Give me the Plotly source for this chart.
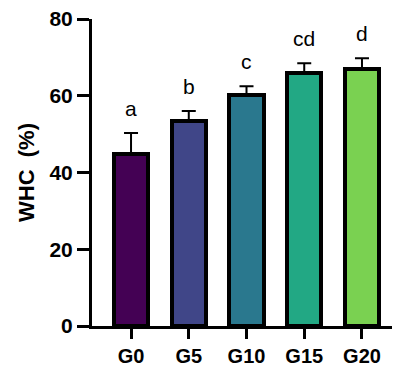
import plotly.graph_objects as go

groups = ["G0", "G5", "G10", "G15", "G20"]
whc_mean = [44.8, 53.4, 60.2, 65.9, 67.0]
whc_sd = [5.5, 2.6, 2.3, 2.6, 2.8]
letters = ["a", "b", "c", "cd", "d"]
bar_colors = ["#440154", "#404688", "#2a788e", "#22a884", "#7ad151"]
y_ticks = [0, 20, 40, 60, 80]

FONT = "Liberation Sans, Arial, sans-serif"

fig = go.Figure()
fig.add_trace(go.Bar(
    x=groups,
    y=whc_mean,
    width=0.59,
    marker=dict(color=bar_colors, line=dict(color="black", width=4)),
    error_y=dict(type="data", array=whc_sd, arrayminus=[0] * len(whc_sd),
                 symmetric=False, color="black", thickness=2, width=7),
    showlegend=False,
))

for g, m, s, t in zip(groups, whc_mean, whc_sd, letters):
    fig.add_annotation(x=g, y=m + s, text=t, showarrow=False, yanchor="bottom",
                       yshift=11, font=dict(family=FONT, size=21, color="black"))

fig.update_layout(
    width=394, height=367,
    margin=dict(l=92, r=2, t=19, b=41, autoexpand=False),
    paper_bgcolor="white", plot_bgcolor="white",
    font=dict(family=FONT, color="black"),
    bargap=0,
)
fig.update_xaxes(
    range=[-0.676, 4.52], automargin=False,
    showline=True, linecolor="black", linewidth=3,
    ticks="outside", ticklen=10, tickwidth=3, tickcolor="black",
    tickfont=dict(family=FONT, size=20, color="black", weight="bold"),
    showgrid=False, zeroline=False,
)
fig.update_yaxes(
    range=[0, 80], tickvals=y_ticks, automargin=False,
    showline=True, linecolor="black", linewidth=3,
    ticks="outside", ticklen=12, tickwidth=3, tickcolor="black",
    tickfont=dict(family=FONT, size=21, color="black", weight="bold"),
    showgrid=False, zeroline=False,
    title=dict(text="WHC  (%)", standoff=9,
               font=dict(family=FONT, size=22, color="black", weight="bold")),
)

fig.write_html("out.html", config={"displayModeBar": False},
               post_script="document.body.style.margin='0';document.body.style.padding='0';")
